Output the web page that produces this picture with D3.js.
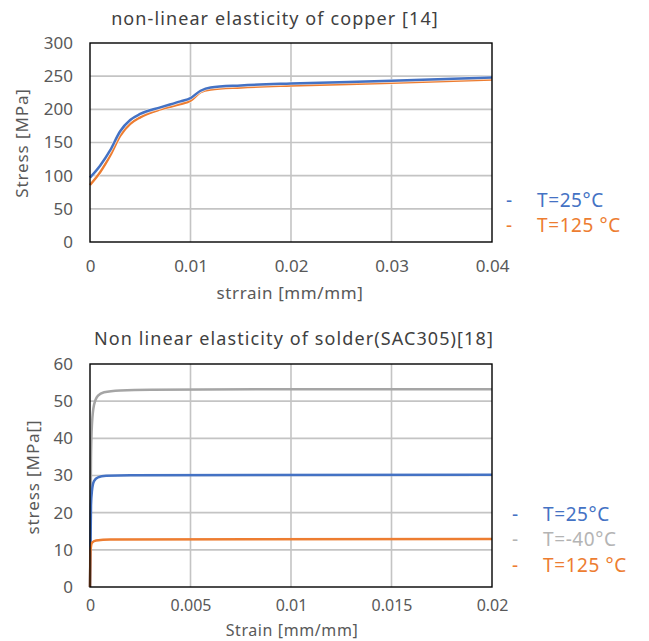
<!DOCTYPE html>
<html>
<head>
<meta charset="utf-8">
<script src="https://cdn.jsdelivr.net/npm/d3@7/dist/d3.min.js"></script>
<style>
body { margin: 0; background: #fff; }
text { font-family: "Noto Sans", sans-serif; }
</style>
</head>
<body>
<svg width="649" height="641"></svg>
<script>
// copper [14] - strain vs stress
var copperStrain = [0, 0.001, 0.002, 0.003, 0.004, 0.005, 0.007, 0.009, 0.01, 0.011, 0.012, 0.015, 0.02, 0.03, 0.04];
var copper25  = [97, 115, 138, 167, 184, 193, 203, 212, 217, 228, 233, 236, 239, 243, 248];
var copper125 = [86, 105, 130, 160, 178, 188, 200, 208, 213, 226, 230, 233, 236, 240, 245];

// solder SAC305 [18]
var solder25Strain  = [0, 0.00005, 0.0001, 0.0002, 0.0004, 0.0008, 0.002, 0.02];
var solder25Stress  = [0, 22, 26, 28.5, 29.5, 29.9, 30.1, 30.2];
var solderM40Strain = [0, 0.00005, 0.0001, 0.0002, 0.0004, 0.0007, 0.0015, 0.003, 0.01, 0.02];
var solderM40Stress = [0, 35, 44, 49, 51.5, 52.4, 52.9, 53.1, 53.2, 53.2];
var solder125Strain = [0, 0.00003, 0.0001, 0.0003, 0.001, 0.02];
var solder125Stress = [0, 10, 11.9, 12.5, 12.8, 12.9];

var copperXTicks = [0, 0.01, 0.02, 0.03, 0.04];
var copperYTicks = [0, 50, 100, 150, 200, 250, 300];
var solderXTicks = [0, 0.005, 0.01, 0.015, 0.02];
var solderYTicks = [0, 10, 20, 30, 40, 50, 60];

var blue = "#4472c4", orange = "#ed7d31", gray = "#a5a5a5";

var svg = d3.select("svg");

function zip(xs, ys) {
	return xs.map((x, i) => [x, ys[i]]);
}

function drawChart(c) {
	var x = d3.scaleLinear().domain(c.xDomain).range([c.left, c.right]);
	var y = d3.scaleLinear().domain(c.yDomain).range([c.bottom, c.top]);
	var g = svg.append("g");

	// grid
	g.append("g").selectAll("line").data(c.yTicks.slice(1, -1)).enter().append("line")
		.attr("x1", c.left).attr("x2", c.right)
		.attr("y1", d => y(d)).attr("y2", d => y(d))
		.attr("stroke", "#c4c4c4").attr("stroke-width", 1.6);
	g.append("g").selectAll("line").data(c.xTicks.slice(1, -1)).enter().append("line")
		.attr("y1", c.top).attr("y2", c.bottom)
		.attr("x1", d => x(d)).attr("x2", d => x(d))
		.attr("stroke", "#c4c4c4").attr("stroke-width", 1.6);

	// axes (labels only)
	var ya = g.append("g").attr("transform", "translate(" + (c.left - 17) + ",0)")
		.call(d3.axisLeft(y).tickValues(c.yTicks).tickSize(0).tickPadding(0).tickFormat(d => String(d)));
	var xa = g.append("g").attr("transform", "translate(0," + c.xLabelY + ")")
		.call(d3.axisBottom(x).tickValues(c.xTicks).tickSize(0).tickPadding(0).tickFormat(d => String(d)));
	[ya, xa].forEach(a => {
		a.select(".domain").remove();
		a.selectAll("text").attr("fill", "#595959").style("font-size", "17px")
			.style("font-family", "'Noto Sans', sans-serif");
	});
	xa.selectAll("text").attr("dy", null).style("font-size", c.xLabelSize + "px");

	// lines
	var line = d3.line().x(d => x(d[0])).y(d => y(d[1])).curve(d3.curveMonotoneX);
	c.series.forEach(s => {
		if (c.halo) {
			g.append("path").datum(s.data).attr("d", line)
				.attr("fill", "none").attr("stroke", "#fff").attr("stroke-width", 3.8).attr("opacity", 0.75);
		}
		g.append("path").datum(s.data).attr("d", line)
			.attr("fill", "none").attr("stroke", s.color).attr("stroke-width", 2.5)
			.attr("stroke-linejoin", "round");
	});

	// frame
	g.append("rect").attr("x", c.left).attr("y", c.top)
		.attr("width", c.right - c.left).attr("height", c.bottom - c.top)
		.attr("fill", "none").attr("stroke", "#000").attr("stroke-width", 1.4);

	// titles
	g.append("text").attr("x", c.titleX).attr("y", c.titleY).attr("text-anchor", "middle")
		.attr("fill", "#404040").style("font-size", "18px").style("letter-spacing", "1.1px").text(c.title);
	g.append("text").attr("x", c.xTitleX).attr("y", c.xTitleY).attr("text-anchor", "middle")
		.attr("fill", "#595959").style("font-size", c.xTitleSize + "px").style("letter-spacing", "0.6px").text(c.xTitle);
	g.append("text").attr("transform", "translate(" + c.yTitleX + "," + c.yTitleY + ") rotate(-90)")
		.attr("text-anchor", "middle").attr("fill", "#595959").style("font-size", "17px")
		.style("letter-spacing", "0.9px").text(c.yTitle);

	// legend
	var leg = g.append("g").selectAll("g").data(c.legend).enter().append("g")
		.attr("transform", (d, i) => "translate(" + c.legX + "," + (c.legY + i * c.legStep) + ")");
	leg.append("text").attr("x", 0).attr("fill", d => d.color).style("font-size", "19px").text("-");
	leg.append("text").attr("x", 31).attr("fill", d => d.color).style("font-size", "19px")
		.style("letter-spacing", "0.6px").text(d => d.label);
}

drawChart({
	left: 90, right: 492, top: 43, bottom: 242,
	xDomain: [0, 0.04], yDomain: [0, 300],
	xTicks: copperXTicks, yTicks: copperYTicks, xLabelY: 272, xLabelSize: 17,
	halo: true,
	series: [
		{ color: orange, data: zip(copperStrain, copper125) },
		{ color: blue, data: zip(copperStrain, copper25) }
	],
	title: "non-linear elasticity of copper [14]", titleX: 275, titleY: 25,
	xTitle: "strrain [mm/mm]", xTitleX: 290, xTitleY: 299, xTitleSize: 17,
	yTitle: "Stress [MPa]", yTitleX: 28, yTitleY: 143,
	legend: [{ label: "T=25°C", color: blue }, { label: "T=125 °C", color: orange }],
	legX: 506, legY: 207, legStep: 25
});

drawChart({
	left: 90, right: 492, top: 364, bottom: 587,
	xDomain: [0, 0.02], yDomain: [0, 60],
	xTicks: solderXTicks, yTicks: solderYTicks, xLabelY: 611, xLabelSize: 16,
	halo: false,
	series: [
		{ color: gray, data: zip(solderM40Strain, solderM40Stress) },
		{ color: blue, data: zip(solder25Strain, solder25Stress) },
		{ color: orange, data: zip(solder125Strain, solder125Stress) }
	],
	title: "Non linear elasticity of solder(SAC305)[18]", titleX: 294, titleY: 345,
	xTitle: "Strain [mm/mm]", xTitleX: 292, xTitleY: 636, xTitleSize: 16,
	yTitle: "stress [MPa[]", yTitleX: 39, yTitleY: 477,
	legend: [{ label: "T=25°C", color: blue }, { label: "T=-40°C", color: "#b4b4b4" }, { label: "T=125 °C", color: orange }],
	legX: 512, legY: 521, legStep: 25.3
});
</script>
</body>
</html>
